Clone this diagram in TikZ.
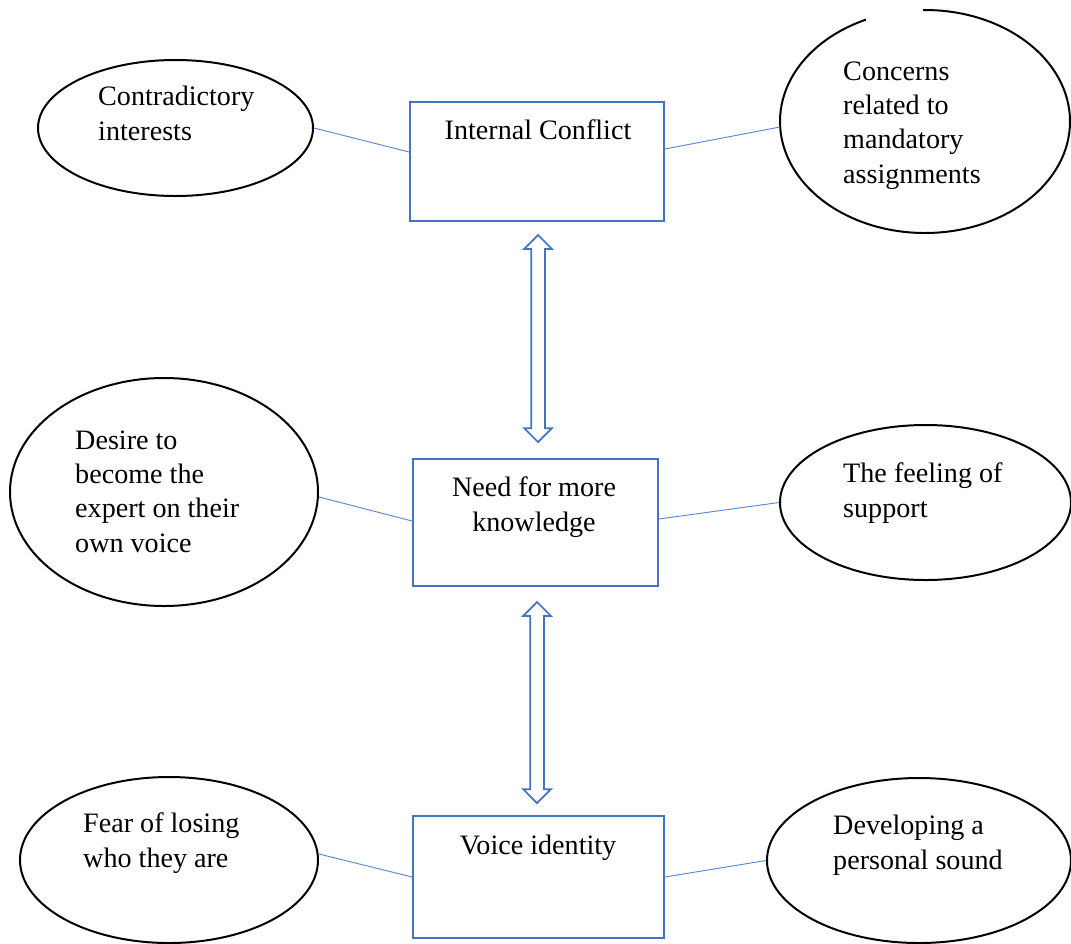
\documentclass[tikz,border=0pt]{standalone}
\usepackage{fontspec}
\setmainfont{Liberation Serif}
\usetikzlibrary{shapes.geometric,shapes.arrows,calc}
\definecolor{boxblue}{HTML}{4472C4}
\definecolor{linkblue}{HTML}{5B87D6}
\newcommand{\px}{0.03cm}
\tikzset{
  theme/.style={draw=boxblue, line width=1.6pt, minimum width=#1},
  oval/.style={draw=black, line width=1.7pt, ellipse, inner sep=0},
  txt/.style={inner sep=0, align=left, anchor=base west, font=\fontsize{24}{29.3}\selectfont},
  ctxt/.style={txt, align=center, anchor=base},
  link/.style={draw=linkblue, line width=0.8pt},
  dblarrow/.style={double arrow, draw=boxblue, line width=1.5pt, fill=white, rotate=90,
    inner xsep=0, inner ysep=6*\px, text height=0pt, text depth=0pt,
    double arrow head extend=7*\px, minimum height=#1}
}
\begin{document}
\begin{tikzpicture}[x=\px,y=-\px]
  \useasboundingbox (0,0) rectangle (1071,943);
  \clip (0,0) rectangle (1071,943);

  % theme boxes
  \node[theme=254*\px, minimum height=119*\px] (ic) at (537,161.5) {};
  \node[theme=245*\px, minimum height=127*\px] (nk) at (535.5,522.5) {};
  \node[theme=251*\px, minimum height=122*\px] (vi) at (538.5,877) {};
  \node[ctxt] at (538,139) {Internal Conflict};
  \node[ctxt] at (534,531) {Need for more\\knowledge};
  \node[ctxt] at (538,854) {Voice identity};

  % ovals
  \node[oval, minimum width=275*\px, minimum height=136*\px] (ci) at (175.5,128) {};
  \node[oval, minimum width=290*\px, minimum height=223*\px] (cm) at (925,121.5) {};
  \node[oval, minimum width=308*\px, minimum height=228*\px] (de) at (164,492) {};
  \node[oval, minimum width=291*\px, minimum height=155*\px] (fs) at (925.5,502.5) {};
  \node[oval, minimum width=298*\px, minimum height=166*\px] (fl) at (169,860) {};
  \node[oval, minimum width=304*\px, minimum height=165*\px] (dp) at (919,860.5) {};
  \fill[white] (866,0) rectangle (923,24);

  \node[txt] at (98,140) {Contradictory\\interests};
  \node[txt] at (843,183) {Concerns\\related to\\mandatory\\assignments};
  \node[txt] at (75,552) {Desire to\\become the\\expert on their\\own voice};
  \node[txt] at (843,517) {The feeling of\\support};
  \node[txt] at (83,867) {Fear of losing\\who they are};
  \node[txt] at (833,869) {Developing a\\personal sound};

  % connectors
  \draw[link] (ci.east) -- ($(ic.west)+(0,-9.5)$);
  \draw[link] ($(ic.east)+(0,-12.5)$) -- ($(cm.west)+(1,5.5)$);
  \draw[link] ($(de.east)+(0,5)$) -- ($(nk.west)+(0,-1.5)$);
  \draw[link] ($(nk.east)+(0,-3.5)$) -- (fs.west);
  \draw[link] ($(fl.east)+(0,-6)$) -- (vi.west);
  \draw[link] (vi.east) -- (dp.west);

  % double arrows
  \node[dblarrow=207*\px] (a1) at (538,338.5) {};
  \node[dblarrow=201*\px] (a2) at (537,702.5) {};
\end{tikzpicture}
\end{document}
